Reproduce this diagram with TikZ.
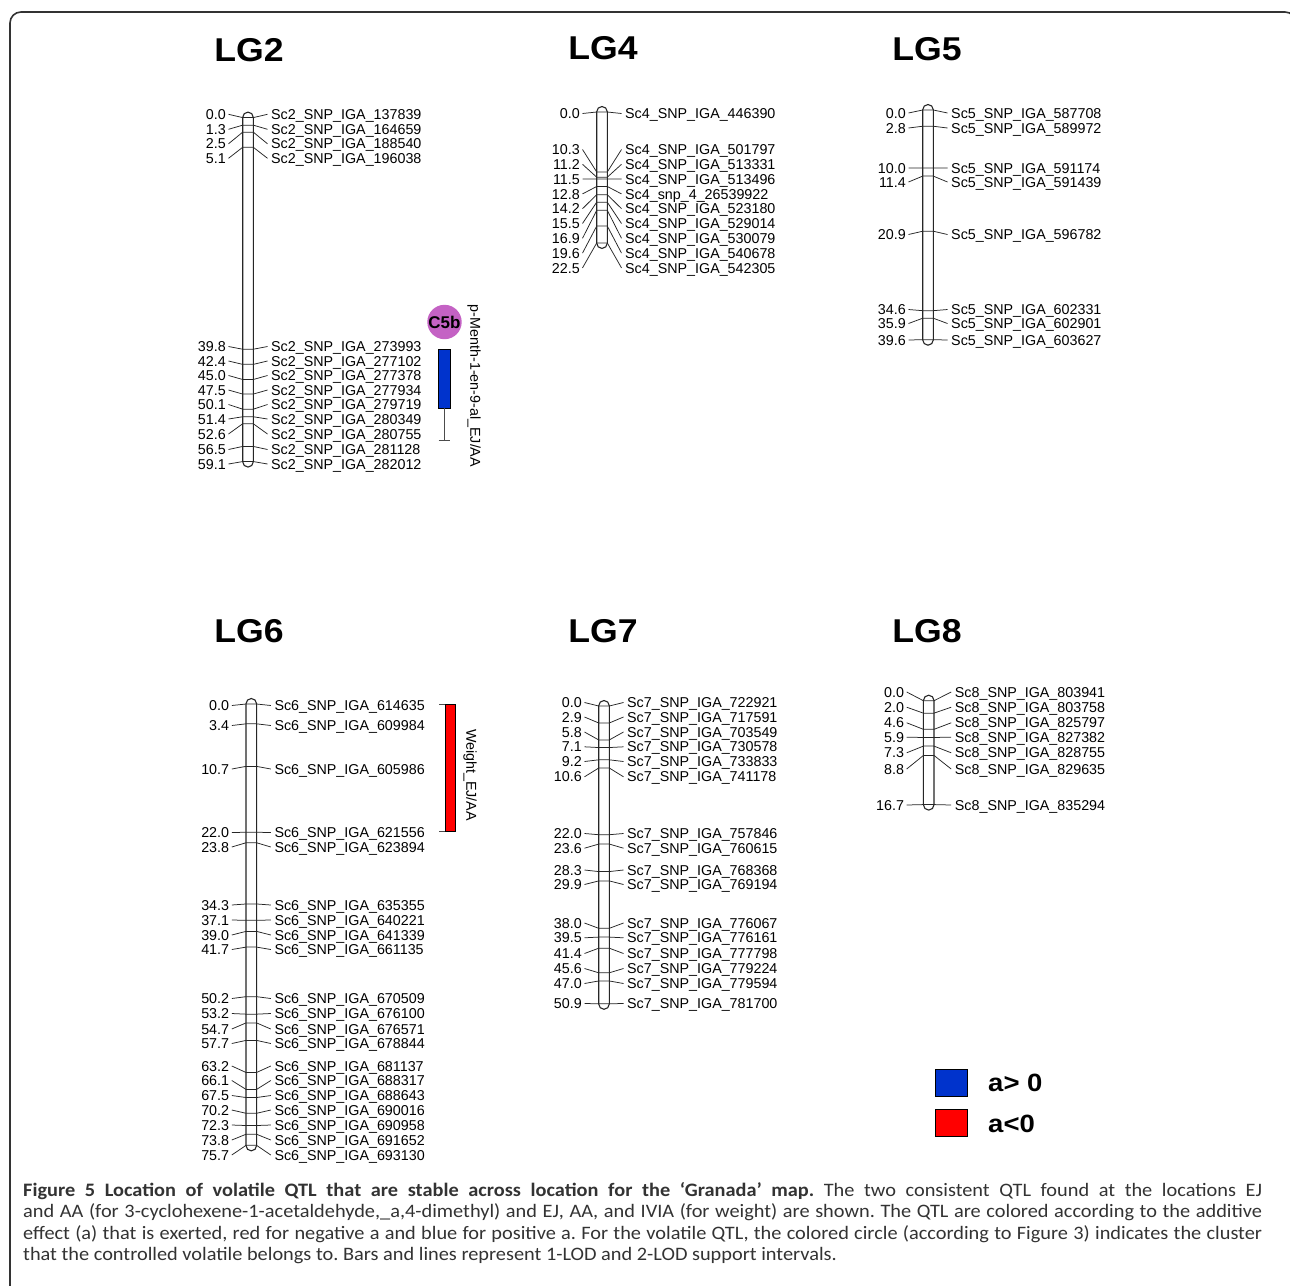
\documentclass[tikz,border=0pt]{standalone}
\usepackage{fontspec}
\setmainfont{Liberation Sans}
\newfontfamily\capfont{Carlito}
\definecolor{qblue}{RGB}{0,51,204}
\definecolor{qred}{RGB}{255,0,0}
\definecolor{cfive}{RGB}{196,98,196}
\tikzset{
  lab/.style={font=\fontsize{14.3}{15}\selectfont, inner ysep=0pt, text height=10.25pt, text depth=0pt},
  numlab/.style={lab, anchor=east, inner xsep=2.5pt},
  mklab/.style={lab, anchor=west, inner xsep=3.5pt},
  chrom/.style={draw=black!85, line width=1.1pt, fill=white, rounded corners=5.3pt},
  mkline/.style={line width=0.75pt, black!85},
  lgtitle/.style={font=\fontsize{33}{35}\selectfont\bfseries, inner sep=0pt},
  qtlbar/.style={draw=black, line width=0.6pt},
  whisk/.style={line width=0.8pt, black!70},
  qtllab/.style={font=\fontsize{14.3}{15}\selectfont, rotate=-90, inner sep=0pt},
  legbox/.style={draw=black, line width=0.6pt, minimum width=32.5pt, minimum height=27.5pt, inner sep=0pt},
  legtext/.style={font=\fontsize{25}{27}\selectfont\bfseries, anchor=west, inner sep=0pt},
  captext/.style={font=\capfont\fontsize{19}{21}\selectfont\frenchspacing, text=black!80, anchor=base west, inner sep=0pt},
}
\newcommand\capline[1]{\scalebox{1.07}[1]{\makebox[1157.9pt][s]{#1}}}
\newcommand\linkgroup[8]{%
  \draw[chrom] (#2-5.3,#3-5.5) rectangle (#2+5.3,#3+#4*#5+5.5);
  \foreach \c/\ly/\nm [count=\i] in {#8}{%
    \pgfmathsetmacro\my{#3+#4*\c}%
    \node[numlab] (n#1-\i) at (#2-#6,\ly) {\c};
    \node[mklab] (m#1-\i) at (#2+#7,\ly) {\nm};
    \coordinate (l#1-\i) at (#2-5.3,\my);
    \coordinate (r#1-\i) at (#2+5.3,\my);
    \draw[mkline] (n#1-\i.east) -- (l#1-\i) -- (r#1-\i) -- (m#1-\i.west);
  }%
}
\begin{document}
\begin{tikzpicture}[x=1pt,y=-1pt]
\useasboundingbox (0,0) rectangle (1290,1285);
\fill[white] (0,0) rectangle (1290,1285);
% frame
\draw[line width=1.6pt, black!80, rounded corners=11pt] (10,1300) -- (10,12) -- (1296,12) -- (1296,1300);

% titles
\node[lgtitle] (t2) at (249,50) {\scalebox{1.08}[1]{LG2}};
\node[lgtitle] (t4) at (603,48) {\scalebox{1.08}[1]{LG4}};
\node[lgtitle] (t5) at (927,49) {\scalebox{1.08}[1]{LG5}};
\node[lgtitle] (t6) at (249,631) {\scalebox{1.08}[1]{LG6}};
\node[lgtitle] (t7) at (603,631) {\scalebox{1.08}[1]{LG7}};
\node[lgtitle] (t8) at (927,631) {\scalebox{1.08}[1]{LG8}};

% LG2
\linkgroup{a}{248}{117.6}{5.82}{59.1}{19.5}{19.5}{%
0.0/114.3/Sc2\_SNP\_IGA\_137839,
1.3/129.3/Sc2\_SNP\_IGA\_164659,
2.5/143.8/Sc2\_SNP\_IGA\_188540,
5.1/158.3/Sc2\_SNP\_IGA\_196038,
39.8/346.5/Sc2\_SNP\_IGA\_273993,
42.4/361/Sc2\_SNP\_IGA\_277102,
45.0/375.5/Sc2\_SNP\_IGA\_277378,
47.5/390/Sc2\_SNP\_IGA\_277934,
50.1/404.5/Sc2\_SNP\_IGA\_279719,
51.4/419/Sc2\_SNP\_IGA\_280349,
52.6/434/Sc2\_SNP\_IGA\_280755,
56.5/449.5/Sc2\_SNP\_IGA\_281128,
59.1/464/Sc2\_SNP\_IGA\_282012}

% LG4
\linkgroup{b}{602}{112}{5.82}{22.5}{19.5}{19.5}{%
0.0/113.5/Sc4\_SNP\_IGA\_446390,
10.3/149.5/Sc4\_SNP\_IGA\_501797,
11.2/164.3/Sc4\_SNP\_IGA\_513331,
11.5/179.1/Sc4\_SNP\_IGA\_513496,
12.8/193.9/Sc4\_snp\_4\_26539922,
14.2/208.7/Sc4\_SNP\_IGA\_523180,
15.5/223.5/Sc4\_SNP\_IGA\_529014,
16.9/238.3/Sc4\_SNP\_IGA\_530079,
19.6/253.1/Sc4\_SNP\_IGA\_540678,
22.5/267.9/Sc4\_SNP\_IGA\_542305}

% LG5
\linkgroup{c}{928}{110}{5.8}{39.6}{19.5}{19.5}{%
0.0/113/Sc5\_SNP\_IGA\_587708,
2.8/128/Sc5\_SNP\_IGA\_589972,
10.0/168/Sc5\_SNP\_IGA\_591174,
11.4/182/Sc5\_SNP\_IGA\_591439,
20.9/234.5/Sc5\_SNP\_IGA\_596782,
34.6/309.5/Sc5\_SNP\_IGA\_602331,
35.9/323.5/Sc5\_SNP\_IGA\_602901,
39.6/340/Sc5\_SNP\_IGA\_603627}

% LG6
\linkgroup{d}{251.3}{704}{5.83}{75.7}{19.5}{19.5}{%
0.0/705.5/Sc6\_SNP\_IGA\_614635,
3.4/725.5/Sc6\_SNP\_IGA\_609984,
10.7/769/Sc6\_SNP\_IGA\_605986,
22.0/832.5/Sc6\_SNP\_IGA\_621556,
23.8/847/Sc6\_SNP\_IGA\_623894,
34.3/905/Sc6\_SNP\_IGA\_635355,
37.1/920/Sc6\_SNP\_IGA\_640221,
39.0/935/Sc6\_SNP\_IGA\_641339,
41.7/949.5/Sc6\_SNP\_IGA\_661135,
50.2/998.5/Sc6\_SNP\_IGA\_670509,
53.2/1013.5/Sc6\_SNP\_IGA\_676100,
54.7/1029/Sc6\_SNP\_IGA\_676571,
57.7/1043.5/Sc6\_SNP\_IGA\_678844,
63.2/1066/Sc6\_SNP\_IGA\_681137,
66.1/1080.5/Sc6\_SNP\_IGA\_688317,
67.5/1095.5/Sc6\_SNP\_IGA\_688643,
70.2/1110/Sc6\_SNP\_IGA\_690016,
72.3/1125/Sc6\_SNP\_IGA\_690958,
73.8/1140/Sc6\_SNP\_IGA\_691652,
75.7/1155/Sc6\_SNP\_IGA\_693130}

% LG7
\linkgroup{e}{604}{706}{5.85}{50.9}{19.5}{19.5}{%
0.0/702.5/Sc7\_SNP\_IGA\_722921,
2.9/717/Sc7\_SNP\_IGA\_717591,
5.8/732/Sc7\_SNP\_IGA\_703549,
7.1/746.8/Sc7\_SNP\_IGA\_730578,
9.2/761.5/Sc7\_SNP\_IGA\_733833,
10.6/776.8/Sc7\_SNP\_IGA\_741178,
22.0/833.5/Sc7\_SNP\_IGA\_757846,
23.6/848.2/Sc7\_SNP\_IGA\_760615,
28.3/870/Sc7\_SNP\_IGA\_768368,
29.9/884.5/Sc7\_SNP\_IGA\_769194,
38.0/923/Sc7\_SNP\_IGA\_776067,
39.5/937.8/Sc7\_SNP\_IGA\_776161,
41.4/953.5/Sc7\_SNP\_IGA\_777798,
45.6/968.5/Sc7\_SNP\_IGA\_779224,
47.0/983.5/Sc7\_SNP\_IGA\_779594,
50.9/1003.5/Sc7\_SNP\_IGA\_781700}

% LG8
\linkgroup{f}{928.7}{700.7}{6.22}{16.7}{22}{22.5}{%
0.0/692/Sc8\_SNP\_IGA\_803941,
2.0/707.2/Sc8\_SNP\_IGA\_803758,
4.6/722.8/Sc8\_SNP\_IGA\_825797,
5.9/737.3/Sc8\_SNP\_IGA\_827382,
7.3/752.8/Sc8\_SNP\_IGA\_828755,
8.8/769/Sc8\_SNP\_IGA\_829635,
16.7/805/Sc8\_SNP\_IGA\_835294}

% QTL on LG2
\node[circle, fill=cfive, minimum size=32.4pt, inner sep=0pt, font=\fontsize{17}{18}\selectfont\bfseries] (c5b) at (444.5,322) {C5b};
\draw[qtlbar, fill=qblue] (438.5,349.3) rectangle (450,408.3);
\coordinate (w2top) at (444.2,408.3);
\coordinate (w2bot) at (444.2,440);
\draw[whisk] (w2top) -- (w2bot);
\draw[whisk] (438.5,440) -- (450,440);
\node[qtllab] (q2lab) at (474,386) {p-Menth-1-en-9-al\_EJ/AA};

% QTL on LG6
\draw[qtlbar, fill=qred] (445,704) rectangle (455,831);
\draw[whisk] (439,704) -- (445,704);
\draw[whisk] (439,831) -- (445,831);
\node[qtllab] (q6lab) at (470,775) {Weight\_EJ/AA};

% legend
\node[legbox, fill=qblue] (kb) at (951.3,1083) {};
\node[legbox, fill=qred] (kr) at (951.3,1123) {};
\node[legtext] (kbt) at (988,1083) {\scalebox{1.1}[1]{a> 0}};
\node[legtext] (krt) at (988,1124) {\scalebox{1.1}[1]{a<0}};

% caption
\node[captext] (cap1) at (23,1196) {\capline{\bfseries Figure 5 Location of volatile QTL that are stable across location for the ‘Granada’ map.\mdseries{} The two consistent QTL found at the locations EJ}};
\node[captext] (cap2) at (23,1217.5) {\capline{and AA (for 3-cyclohexene-1-acetaldehyde,\_a,4-dimethyl) and EJ, AA, and IVIA (for weight) are shown. The QTL are colored according to the additive}};
\node[captext] (cap3) at (23,1239) {\capline{effect (a) that is exerted, red for negative a and blue for positive a. For the volatile QTL, the colored circle (according to Figure 3) indicates the cluster}};
\node[captext] (cap4) at (23,1260.5) {\scalebox{1.07}[1]{that the controlled volatile belongs to. Bars and lines represent 1-LOD and 2-LOD support intervals.}};
\end{tikzpicture}
\end{document}
